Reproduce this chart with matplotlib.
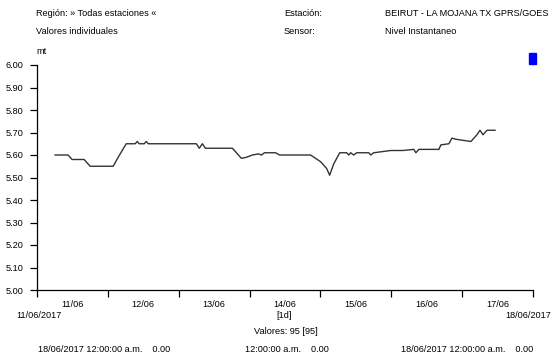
import matplotlib
matplotlib.use("Agg")
import matplotlib.pyplot as plt
from matplotlib.patches import Rectangle

# ── datos ─────────────────────────────────────────────────────────────────────
# días desde 11/06/2017 00:00 y nivel (mt)
dias = [0.255, 0.438, 0.495, 0.665, 0.750, 1.075, 1.146, 1.259, 1.386, 1.414,
        1.443, 1.513, 1.542, 1.570, 2.249, 2.291, 2.334, 2.376, 2.405, 2.758,
        2.885, 2.956, 3.041, 3.126, 3.168, 3.211, 3.267, 3.310, 3.366, 3.423,
        3.861, 4.003, 4.088, 4.130, 4.187, 4.272, 4.371, 4.399, 4.427, 4.469,
        4.512, 4.682, 4.710, 4.752, 4.993, 5.163, 5.318, 5.347, 5.389, 5.672,
        5.700, 5.813, 5.856, 5.912, 6.124, 6.209, 6.252, 6.294, 6.351, 6.464]
nivel = [5.60, 5.60, 5.58, 5.58, 5.55, 5.55, 5.59, 5.65, 5.65, 5.66,
         5.65, 5.65, 5.66, 5.65, 5.65, 5.63, 5.65, 5.63, 5.63, 5.63,
         5.585, 5.59, 5.60, 5.605, 5.60, 5.61, 5.61, 5.61, 5.61, 5.60,
         5.60, 5.57, 5.54, 5.51, 5.56, 5.61, 5.61, 5.60, 5.61, 5.60,
         5.61, 5.61, 5.60, 5.61, 5.62, 5.62, 5.625, 5.61, 5.625, 5.625,
         5.645, 5.65, 5.675, 5.67, 5.66, 5.69, 5.71, 5.69, 5.71, 5.71]

etiquetas_dias = ["11/06", "12/06", "13/06", "14/06", "15/06", "16/06", "17/06"]
yticks = [5.00, 5.10, 5.20, 5.30, 5.40, 5.50, 5.60, 5.70, 5.80, 5.90, 6.00]

# ── estilo ────────────────────────────────────────────────────────────────────
FAM = ["Liberation Sans Narrow", "Liberation Sans", "DejaVu Sans"]
plt.rcParams["font.family"] = FAM
FS = 6.6

W, H = 551, 356
fig = plt.figure(figsize=(W / 100, H / 100), dpi=100)
ax = fig.add_axes([37 / W, 1 - 290 / H, (533 - 37) / W, (290 - 65) / H])

ax.plot(dias, nivel, color="#333333", linewidth=1.0)
ax.set_xlim(0, 7)
ax.set_ylim(5.0, 6.0)

ax.spines["top"].set_visible(False)
ax.spines["right"].set_visible(False)
ax.spines["left"].set_linewidth(0.9)
ax.spines["bottom"].set_linewidth(0.9)

ax.set_yticks(yticks)
ax.set_yticklabels([f"{v:.2f}" for v in yticks], fontsize=FS)
ax.set_xticks(range(8))
ax.set_xticklabels([])
ax.set_xticks([d + 0.5 for d in range(7)], minor=True)
ax.set_xticklabels(etiquetas_dias, minor=True, fontsize=FS)
ax.tick_params(axis="x", which="major", length=5, width=0.9, direction="out")
ax.tick_params(axis="x", which="minor", length=0, pad=7)
ax.tick_params(axis="y", length=5, width=0.9, pad=5)


def px(x, y, s, ha="left", **kw):
    fig.text(x / W, 1 - y / H, s, ha=ha, va="center", fontsize=FS, **kw)


# cabecera
px(36, 13, "Región: » Todas estaciones «")
px(36, 31, "Valores individuales")
px(284, 13, "Estación:")
px(284, 31, "Sensor:")
px(385, 13, "BEIRUT - LA MOJANA TX GPRS/GOES")
px(385, 31, "Nivel Instantaneo")
px(36, 51, "mt")
fig.patches.append(Rectangle((529 / W, 1 - 64 / H), 7 / W, 11 / H,
                             transform=fig.transFigure, color="#0000FF"))

# pie
px(16, 316, "11/06/2017")
px(551, 316, "18/06/2017", ha="right")
px(284, 315, "[1d]", ha="center")
px(286, 332, "Valores: 95 [95]", ha="center")
px(38, 350, "18/06/2017 12:00:00 a.m.    0.00")
px(245, 350, "12:00:00 a.m.    0.00")
px(533, 350, "18/06/2017 12:00:00 a.m.    0.00", ha="right")

fig.savefig("out.png", dpi=100)
